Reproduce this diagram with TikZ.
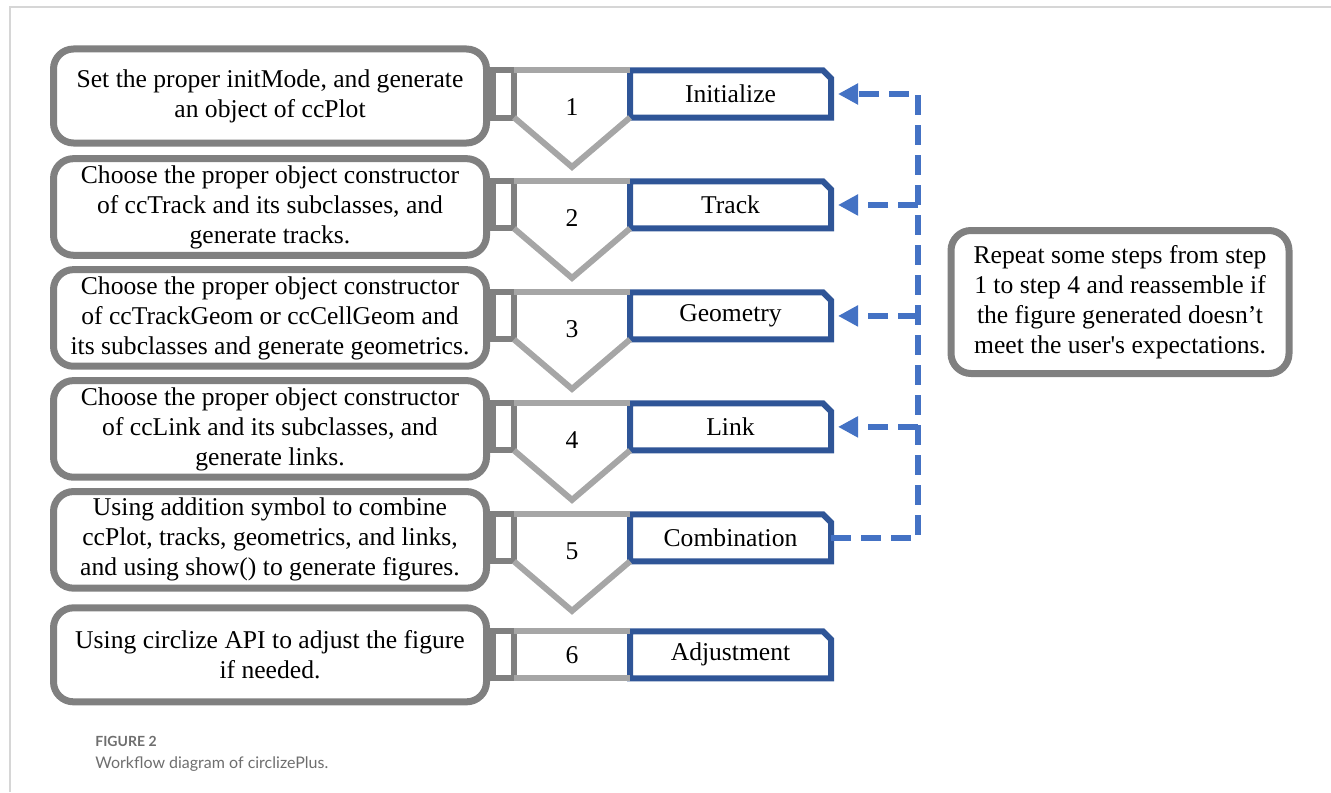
\documentclass[tikz,border=0pt]{standalone}
\usepackage{fontspec}
\setmainfont{Liberation Serif}
\newfontfamily\capfont{Lato}
\usepackage{tikz}
\usetikzlibrary{arrows.meta, positioning, calc}
\definecolor{boxgray}{RGB}{128,128,128}
\definecolor{chevgray}{RGB}{166,166,166}
\definecolor{phaseblue}{RGB}{47,85,151}
\definecolor{loopblue}{RGB}{68,114,196}
\definecolor{capgray}{RGB}{110,110,110}
\definecolor{framegray}{RGB}{214,214,214}
\tikzstyle{stepbox} = [rectangle, rounded corners=10pt, minimum width=216.5pt, minimum height=47pt, align=center, draw=boxgray, line width=3.5pt]
\tikzstyle{tab} = [rectangle, minimum width=10.5pt, minimum height=23.5pt, draw=boxgray, line width=3pt, outer sep=0pt]
\tikzstyle{phase} = [rectangle, minimum width=100.5pt, minimum height=23.5pt, outer sep=0pt]
\tikzstyle{phaseline} = [draw=phaseblue, line width=3pt]
\tikzstyle{num} = [inner sep=0pt]
\tikzstyle{chev} = [draw=chevgray, line width=3pt]
\tikzstyle{back} = [draw=loopblue, line width=3pt, dash pattern=on 10pt off 5pt]
\tikzstyle{arrow} = [-{Triangle[length=10pt,width=10pt]}]
% outline of a phase box, top right corner cut
\newcommand{\chamfer}[1]{\draw[phaseline] (#1.north west) -- ([xshift=-4pt]#1.north east) -- ([yshift=-4pt]#1.north east) -- (#1.south east) -- (#1.south west) -- cycle;}

\begin{document}
\begin{tikzpicture}[x=0.5pt, y=-0.5pt, node distance=1.95cm, font=\fontsize{12.8pt}{15pt}\selectfont]
\useasboundingbox (0,0) rectangle (1331,792);
\draw[framegray, line width=1pt] (10,792) -- (10,7) -- (1331,7);

% steps on the left
\node (step1) [stepbox] at (270,96) {Set the proper initMode, and generate\\an object of ccPlot};
\node (step2) [stepbox, below of=step1] {Choose the proper object constructor\\of ccTrack and its subclasses, and\\generate tracks.};
\node (step3) [stepbox, below of=step2] {Choose the proper object constructor\\of ccTrackGeom or ccCellGeom and\\its subclasses and generate geometrics.};
\node (step4) [stepbox, below of=step3] {Choose the proper object constructor\\of ccLink and its subclasses, and\\generate links.};
\node (step5) [stepbox, below of=step4] {Using addition symbol to combine\\ccPlot, tracks, geometrics, and links,\\and using show() to generate figures.};
\node (step6) [stepbox, below of=step5, yshift=-2pt] {Using circlize API to adjust the figure\\if needed.};

% tabs and phases
\node (tab1) [tab, right=1.5pt of step1, yshift=1pt] {};
\node (tab2) [tab, right=1.5pt of step2, yshift=1pt] {};
\node (tab3) [tab, right=1.5pt of step3, yshift=1pt] {};
\node (tab4) [tab, right=1.5pt of step4, yshift=1pt] {};
\node (tab5) [tab, right=1.5pt of step5, yshift=1pt] {};
\node (tab6) [tab, right=1.5pt of step6] {};

\node (ph1) [phase, right=58pt of tab1] {Initialize};
\node (ph2) [phase, right=58pt of tab2] {Track};
\node (ph3) [phase, right=58pt of tab3] {Geometry};
\node (ph4) [phase, right=58pt of tab4] {Link};
\node (ph5) [phase, right=58pt of tab5] {Combination};
\node (ph6) [phase, right=58pt of tab6] {Adjustment};
\chamfer{ph1} \chamfer{ph2} \chamfer{ph3} \chamfer{ph4} \chamfer{ph5} \chamfer{ph6}

\node (n1) [num, yshift=-6.5pt] at ($(tab1.east)!0.5!(ph1.west)$) {1};
\node (n2) [num, yshift=-6.5pt] at ($(tab2.east)!0.5!(ph2.west)$) {2};
\node (n3) [num, yshift=-6.5pt] at ($(tab3.east)!0.5!(ph3.west)$) {3};
\node (n4) [num, yshift=-6.5pt] at ($(tab4.east)!0.5!(ph4.west)$) {4};
\node (n5) [num, yshift=-6.5pt] at ($(tab5.east)!0.5!(ph5.west)$) {5};
\node (n6) [num] at ($(tab6.east)!0.5!(ph6.west)$) {6};

\coordinate (tip1) at ($(tab1.east)!0.5!(ph1.west)+(0,-36.5pt)$);
\coordinate (tip2) at ($(tab2.east)!0.5!(ph2.west)+(0,-36.5pt)$);
\coordinate (tip3) at ($(tab3.east)!0.5!(ph3.west)+(0,-36.5pt)$);
\coordinate (tip4) at ($(tab4.east)!0.5!(ph4.west)+(0,-36.5pt)$);
\coordinate (tip5) at ($(tab5.east)!0.5!(ph5.west)+(0,-36.5pt)$);

% chevrons
\draw [chev] (tab1.north east) -- (ph1.north west);
\draw [chev] (tab1.south east) -- (tip1) -- (ph1.south west);
\draw [chev] (tab2.north east) -- (ph2.north west);
\draw [chev] (tab2.south east) -- (tip2) -- (ph2.south west);
\draw [chev] (tab3.north east) -- (ph3.north west);
\draw [chev] (tab3.south east) -- (tip3) -- (ph3.south west);
\draw [chev] (tab4.north east) -- (ph4.north west);
\draw [chev] (tab4.south east) -- (tip4) -- (ph4.south west);
\draw [chev] (tab5.north east) -- (ph5.north west);
\draw [chev] (tab5.south east) -- (tip5) -- (ph5.south west);
\draw [chev] (tab6.north east) -- (ph6.north west);
\draw [chev] (tab6.south east) -- (ph6.south west);

% repeat loop
\node (note) [stepbox, minimum width=169pt, minimum height=71.5pt] at (1120,302) {Repeat some steps from step\\1 to step 4 and reassemble if\\the figure generated doesn't\\meet the user\textquotesingle s expectations.};
\coordinate (rail) at (918,0);
\draw [back, arrow] (ph5.east) -- (ph5.east -| rail) |- ([xshift=3.5pt]ph1.east);
\draw [back, arrow] (ph2.east -| rail) -- ([xshift=3.5pt]ph2.east);
\draw [back, arrow] (ph3.east -| rail) -- ([xshift=3.5pt]ph3.east);
\draw [back, arrow] (ph4.east -| rail) -- ([xshift=3.5pt]ph4.east);

% caption
\node (figno) [anchor=west, inner sep=0pt, text=capgray, font=\capfont\fontsize{7pt}{8pt}\selectfont\bfseries] at (95,741) {FIGURE 2};
\node (caption) [anchor=west, inner sep=0pt, text=capgray, font=\capfont\fontsize{8pt}{10pt}\selectfont] at (95,764) {Workflow diagram of circlizePlus.};
\end{tikzpicture}
\end{document}
